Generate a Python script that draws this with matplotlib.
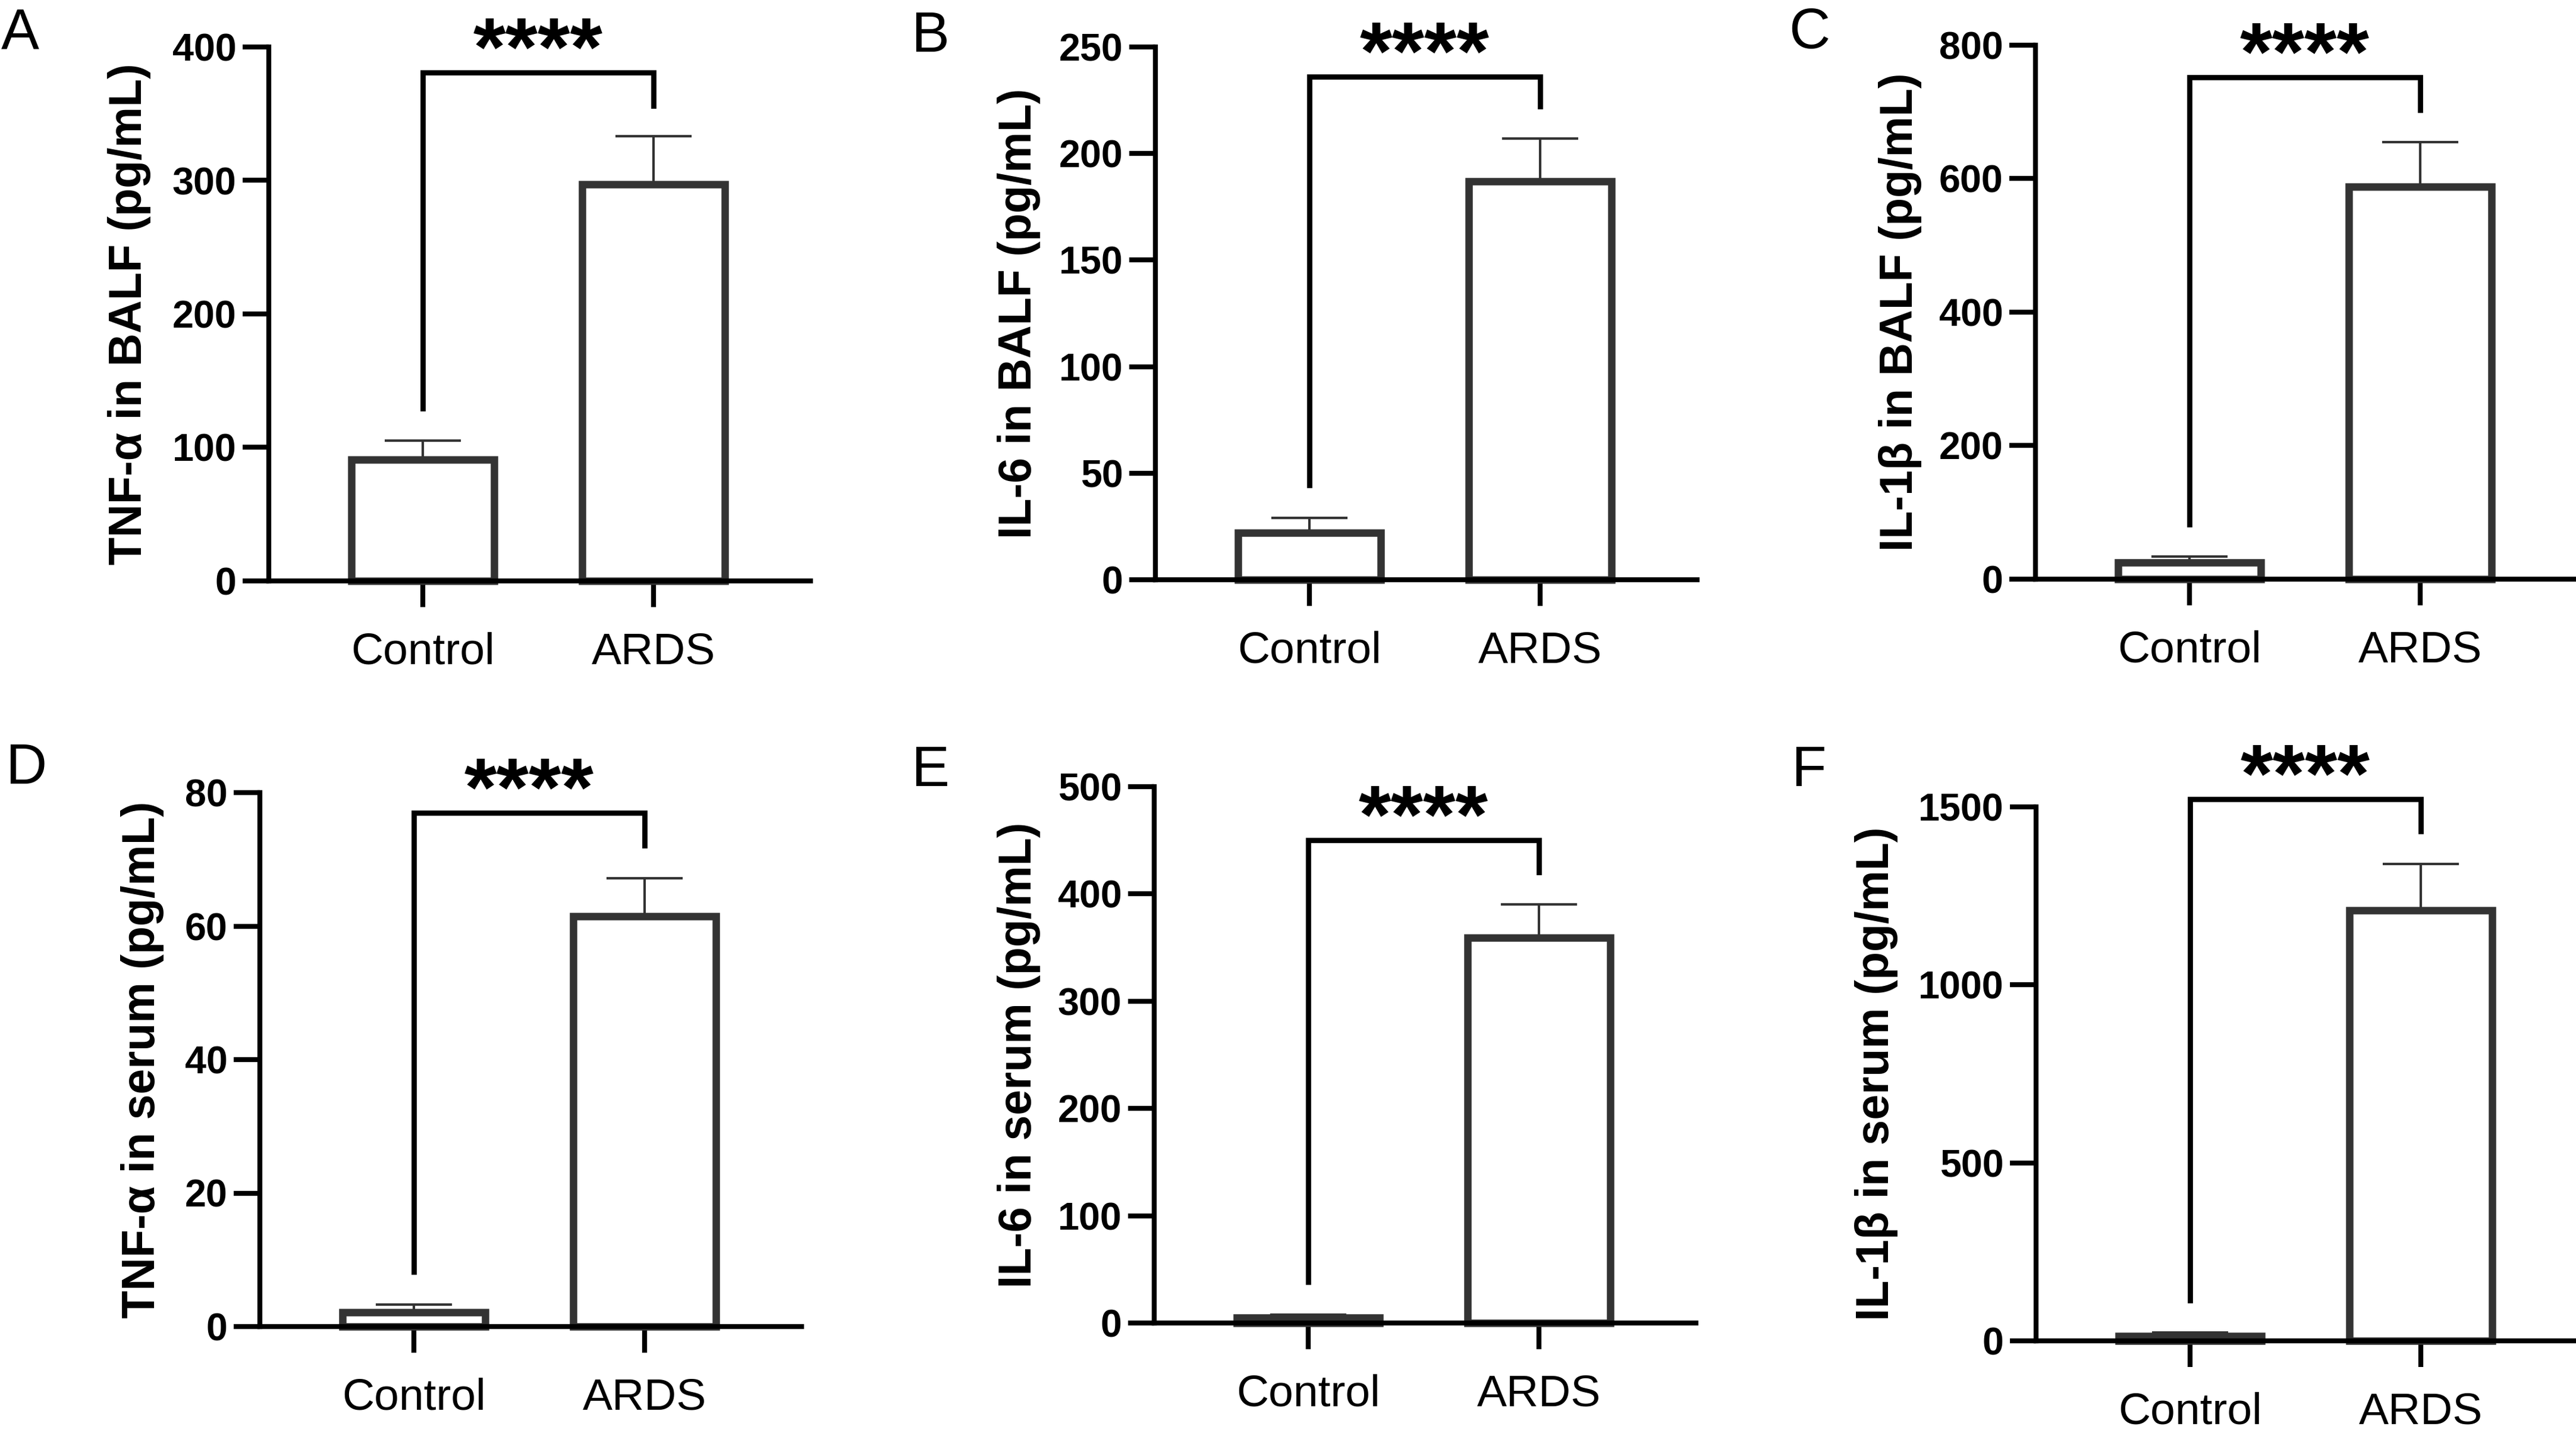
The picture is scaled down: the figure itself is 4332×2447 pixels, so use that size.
import matplotlib
matplotlib.use("Agg")
import matplotlib.pyplot as plt
from matplotlib import font_manager as fm

# ---------------- data ----------------
groups = ["Control", "ARDS"]
panel_letters = ["A", "B", "C", "D", "E", "F"]
ylabels = ["TNF-α in BALF (pg/mL)", "IL-6 in BALF (pg/mL)", "IL-1β in BALF (pg/mL)",
           "TNF-α in serum (pg/mL)", "IL-6 in serum (pg/mL)", "IL-1β in serum (pg/mL)"]
ymax = [400, 250, 800, 80, 500, 1500]
ystep = [100, 50, 200, 20, 100, 500]
control_mean = [91, 22, 24.5, 2.1, 5, 13]
control_sem = [14, 7, 9.5, 1.2, 3, 11]
ards_mean = [297, 187, 588, 61.5, 359, 1210]
ards_sem = [36, 20, 67, 5.7, 31, 129]
sig_label = ["****"] * 6
bracket_top = [381, 236, 752, 77, 450, 1521]
bracket_left_end = [129, 44.5, 82, 8.2, 38, 113]
bracket_right_end = [356, 222, 703, 72.1, 420, 1432]

# ---------------- layout (pixels) ----------------
W, H, DPI = 4332, 2447, 300
# (spine x, y of zero line, y of top)
ax_px = [(452, 977, 79), (1943, 975, 79), (3423, 974, 76),
         (437, 2231, 1333), (1941, 2225, 1323), (3424, 2255, 1357)]
ax_w_px = 911
ylabel_dx = [-235, -229, -228, -198, -227, -268]
letter_pos = [(2, 11), (1532, 17), (3008, 11), (9, 1248), (1532, 1252), (3012, 1252)]


def has_font(name):
    try:
        fm.findfont(fm.FontProperties(family=name), fallback_to_default=False)
        return True
    except Exception:
        return False


narrow = "Liberation Sans Narrow" if has_font("Liberation Sans Narrow") else "Liberation Sans"
ytick_fs = 18 if narrow == "Liberation Sans Narrow" else 15.5

plt.rcParams["font.family"] = ["Liberation Sans", "DejaVu Sans"]

fig = plt.figure(figsize=(W / DPI, H / DPI), dpi=DPI)
fig.patch.set_facecolor("white")

XL = (-0.667, 1.68)
edge = "#333333"

for i in range(6):
    sx, y0, yt = ax_px[i]
    ax = fig.add_axes([sx / W, 1 - y0 / H, ax_w_px / W, (y0 - yt) / H])
    xs = [0, 1]
    means = [control_mean[i], ards_mean[i]]
    sems = [control_sem[i], ards_sem[i]]
    ax.errorbar(xs, means, yerr=[[0, 0], sems], fmt="none", ecolor=edge,
                elinewidth=1.0, capsize=15.4, capthick=1.0, zorder=1, clip_on=False)
    ax.bar(xs, means, width=0.62, facecolor="white", edgecolor=edge,
           linewidth=3.0, zorder=2, clip_on=False)

    # significance bracket
    ax.plot([0, 0, 1, 1],
            [bracket_left_end[i], bracket_top[i], bracket_top[i], bracket_right_end[i]],
            color="black", lw=2.1, solid_joinstyle="miter", clip_on=False, zorder=3)
    ax.annotate(sig_label[i], xy=(0.5, bracket_top[i]), xytext=(0, -1.0),
                textcoords="offset points", ha="center", va="baseline",
                fontsize=33.6, fontweight="bold", annotation_clip=False)

    ax.set_xlim(*XL)
    ax.set_ylim(0, ymax[i])
    ticks = list(range(0, ymax[i] + 1, ystep[i]))
    ax.set_yticks(ticks)
    ax.set_yticklabels([str(t) for t in ticks], fontfamily=narrow,
                       fontweight="bold", fontsize=ytick_fs)
    ax.set_xticks(xs)
    ax.set_xticklabels(groups, fontsize=18)

    for s in ["top", "right"]:
        ax.spines[s].set_visible(False)
    for s in ["left", "bottom"]:
        ax.spines[s].set_linewidth(2.0)
        ax.spines[s].set_color("black")
    ax.spines["bottom"].set_capstyle("projecting")
    ax.tick_params(axis="y", direction="out", length=10.5, width=2.0, pad=2.6)
    ax.tick_params(axis="x", direction="out", length=10.5, width=2.0, pad=10)
    ax.set_facecolor("none")

    ax.text(ylabel_dx[i] / ax_w_px, 0.5, ylabels[i], transform=ax.transAxes,
            rotation=90, ha="center", va="center", fontsize=18.5, fontweight="bold")

    lx, ly = letter_pos[i]
    fig.text(lx / W, 1 - ly / H, panel_letters[i], ha="left", va="top", fontsize=23)

fig.savefig("out.png", dpi=DPI, facecolor="white")
